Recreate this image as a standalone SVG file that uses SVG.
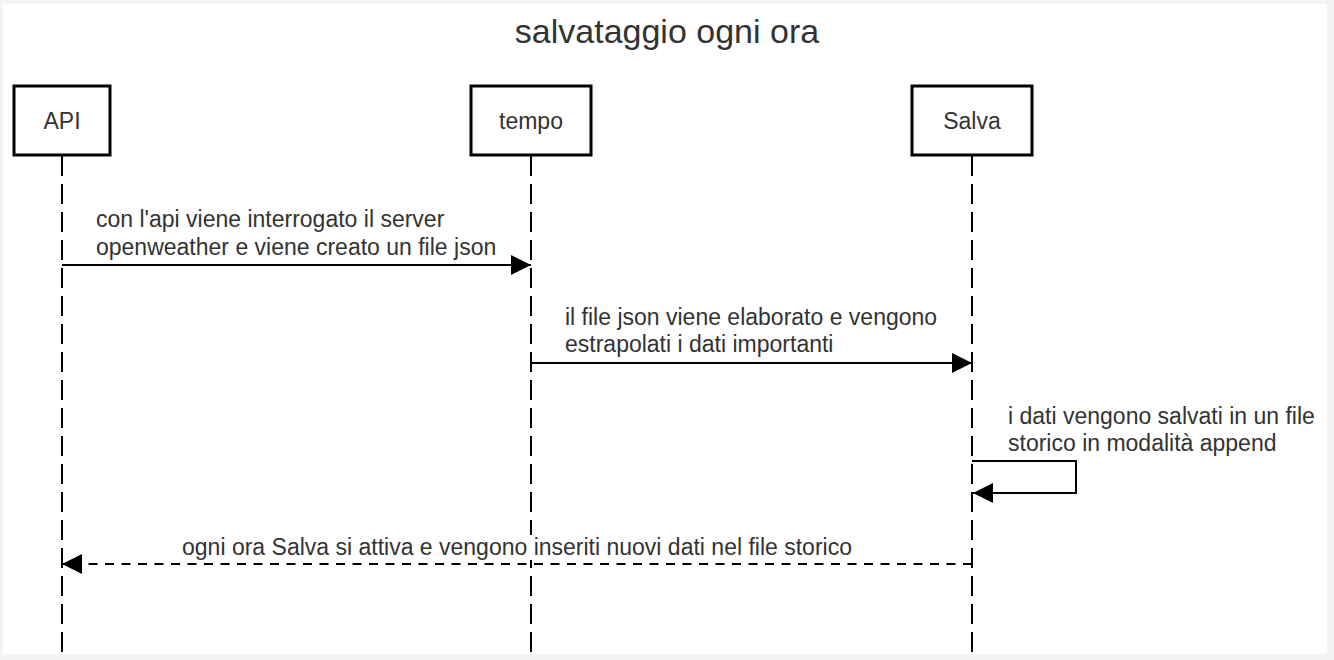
<svg xmlns="http://www.w3.org/2000/svg" width="1334" height="660" viewBox="0 0 1334 660">
  <style>
    .t { font-family: "Liberation Sans", Arial, sans-serif; font-size: 23px; fill: #333333; }
    .title { font-family: "Liberation Sans", Arial, sans-serif; font-size: 34px; fill: #333333; text-anchor: middle; }
    .box { fill: #ffffff; stroke: #000000; stroke-width: 3; }
    .life { stroke: #000000; stroke-width: 2; stroke-dasharray: 20 8; fill: none; }
    .msg { stroke: #000000; stroke-width: 2; fill: none; marker-end: url(#head); }
    .dash { stroke-dasharray: 9 7.5; }
    .lblbg { fill: #ffffff; }
  </style>
  <defs>
    <marker id="head" markerUnits="userSpaceOnUse" markerWidth="20" markerHeight="20" refX="20" refY="10" orient="auto">
      <path d="M0,0 L20,10 L0,20 Z" fill="#000000"/>
    </marker>
  </defs>
  <rect x="0" y="0" width="1334" height="660" fill="#f4f4f4"/>
  <rect x="3" y="4" width="1324" height="650" fill="#ffffff"/>
  <text class="title" x="667" y="43">salvataggio ogni ora</text>

  <g id="lifelines">
    <line class="life" x1="62" y1="156" x2="62" y2="654"/>
    <line class="life" x1="531" y1="156" x2="531" y2="654"/>
    <line class="life" x1="972" y1="156" x2="972" y2="654"/>
  </g>

  <g id="node-api">
    <rect class="box" x="14" y="86" width="96" height="69"/>
    <text class="t" x="62" y="129" text-anchor="middle">API</text>
  </g>
  <g id="node-tempo">
    <rect class="box" x="471" y="86" width="120" height="69"/>
    <text class="t" x="531" y="129" text-anchor="middle">tempo</text>
  </g>
  <g id="node-salva">
    <rect class="box" x="912" y="86" width="120" height="69"/>
    <text class="t" x="972" y="129" text-anchor="middle">Salva</text>
  </g>

  <g id="connectors">
    <line class="msg" x1="62" y1="265" x2="531" y2="265"/>
    <text class="t" x="96" y="227">con l'api viene interrogato il server</text>
    <text class="t" x="96" y="255">openweather e viene creato un file json</text>

    <line class="msg" x1="531" y1="363" x2="972" y2="363"/>
    <text class="t" x="565" y="325">il file json viene elaborato e vengono</text>
    <text class="t" x="565" y="352">estrapolati i dati importanti</text>

    <path class="msg" d="M972,461 H1076 V493 H973"/>
    <text class="t" x="1008" y="424">i dati vengono salvati in un file</text>
    <text class="t" x="1008" y="451">storico in modalità append</text>

    <line class="msg dash" x1="972" y1="564" x2="62" y2="564"/>
    <rect class="lblbg" x="182" y="535" width="671" height="25"/>
    <text class="t" x="517" y="555" text-anchor="middle">ogni ora Salva si attiva e vengono inseriti nuovi dati nel file storico</text>
  </g>
</svg>
